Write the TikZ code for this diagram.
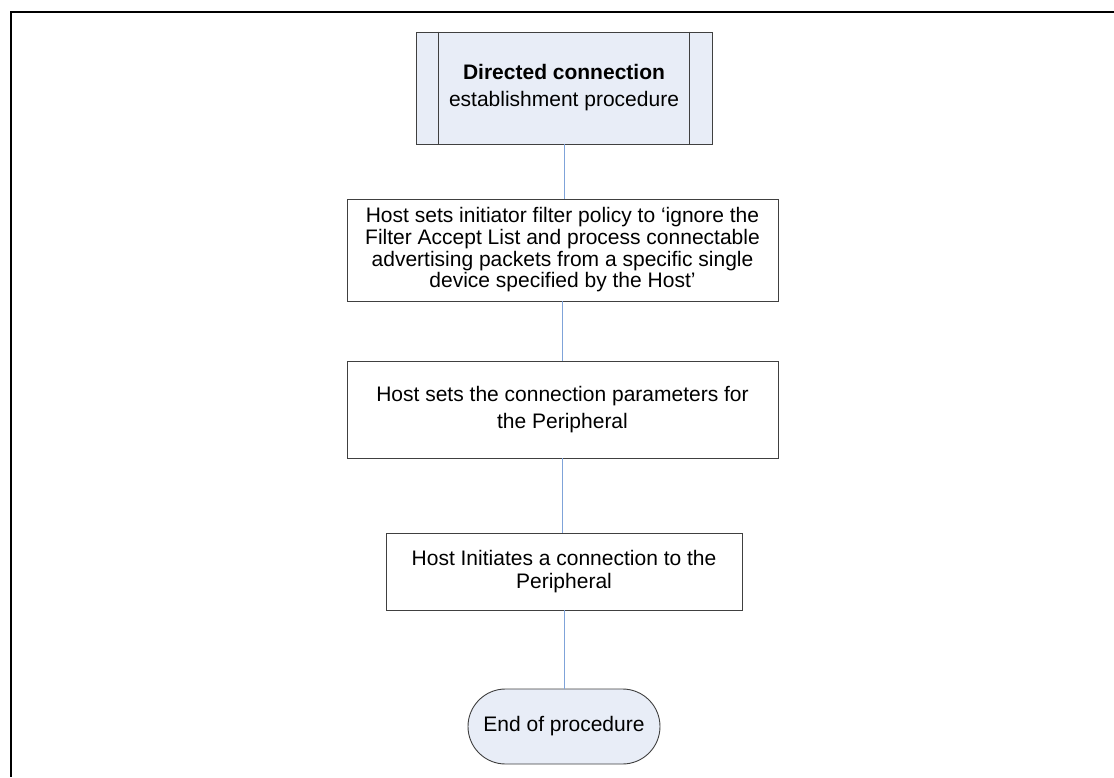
\documentclass[tikz,border=0pt]{standalone}
\usepackage{fontspec}
\setmainfont{Liberation Sans}
\usetikzlibrary{shapes.misc}
\definecolor{boxfill}{HTML}{E8EDF7}
\definecolor{linkblue}{HTML}{7FA3D9}
\definecolor{edgegray}{HTML}{404040}
\begin{document}
\begin{tikzpicture}[x=1pt,y=-1pt,
  frameline/.style={line width=2pt,black},
  procbox/.style={draw=edgegray,line width=0.9pt,fill=white,align=center,inner sep=0pt},
  predef/.style={draw=edgegray,line width=0.9pt,fill=boxfill,align=center,inner sep=0pt,minimum width=296pt,minimum height=112pt},
  termbox/.style={draw=edgegray,line width=0.9pt,fill=boxfill,rounded rectangle,inner sep=0pt,minimum width=192pt,minimum height=75pt},
  link/.style={draw=linkblue,line width=0.8pt}]
\useasboundingbox (0,0) rectangle (1114,777);
% outer frame (only top and left edges visible)
\coordinate (fa) at (1114,12);
\coordinate (fb) at (10.5,12);
\coordinate (fc) at (10.5,777);
\draw[frameline] (fa) -- (fb) -- (fc);
% nodes
\node[predef,font=\fontsize{21}{27}\selectfont] (start) at (564,88) {\textbf{Directed connection}\\establishment procedure};
\draw[edgegray,line width=0.9pt] ([xshift=23pt]start.north west) -- ([xshift=23pt]start.south west);
\draw[edgegray,line width=0.9pt] ([xshift=-23pt]start.north east) -- ([xshift=-23pt]start.south east);
\node[procbox,minimum width=431pt,minimum height=102pt,font=\fontsize{21}{21.7}\selectfont] (filter) at (562.5,250)
  {Host sets initiator filter policy to ‘ignore the\\Filter Accept List and process connectable\\advertising packets from a specific single\\device specified by the Host’};
\node[procbox,minimum width=431pt,minimum height=97pt,font=\fontsize{21}{26.7}\selectfont] (params) at (562.5,409.5)
  {Host sets the connection parameters for\\the Peripheral};
\node[procbox,minimum width=356pt,minimum height=77pt,font=\fontsize{21}{23.5}\selectfont] (init) at (564,571.5)
  {Host Initiates a connection to the\\Peripheral};
\node[termbox,font=\fontsize{21}{25}\selectfont] (end) at (564,726.5) {End of procedure};
% connectors
\draw[link] (start.south) -- (start.south |- filter.north);
\draw[link] (filter.south -| params.north) -- (params.north);
\draw[link] (params.south) -- (params.south |- init.north);
\draw[link] (init.south) -- (end.north);
\end{tikzpicture}
\end{document}
